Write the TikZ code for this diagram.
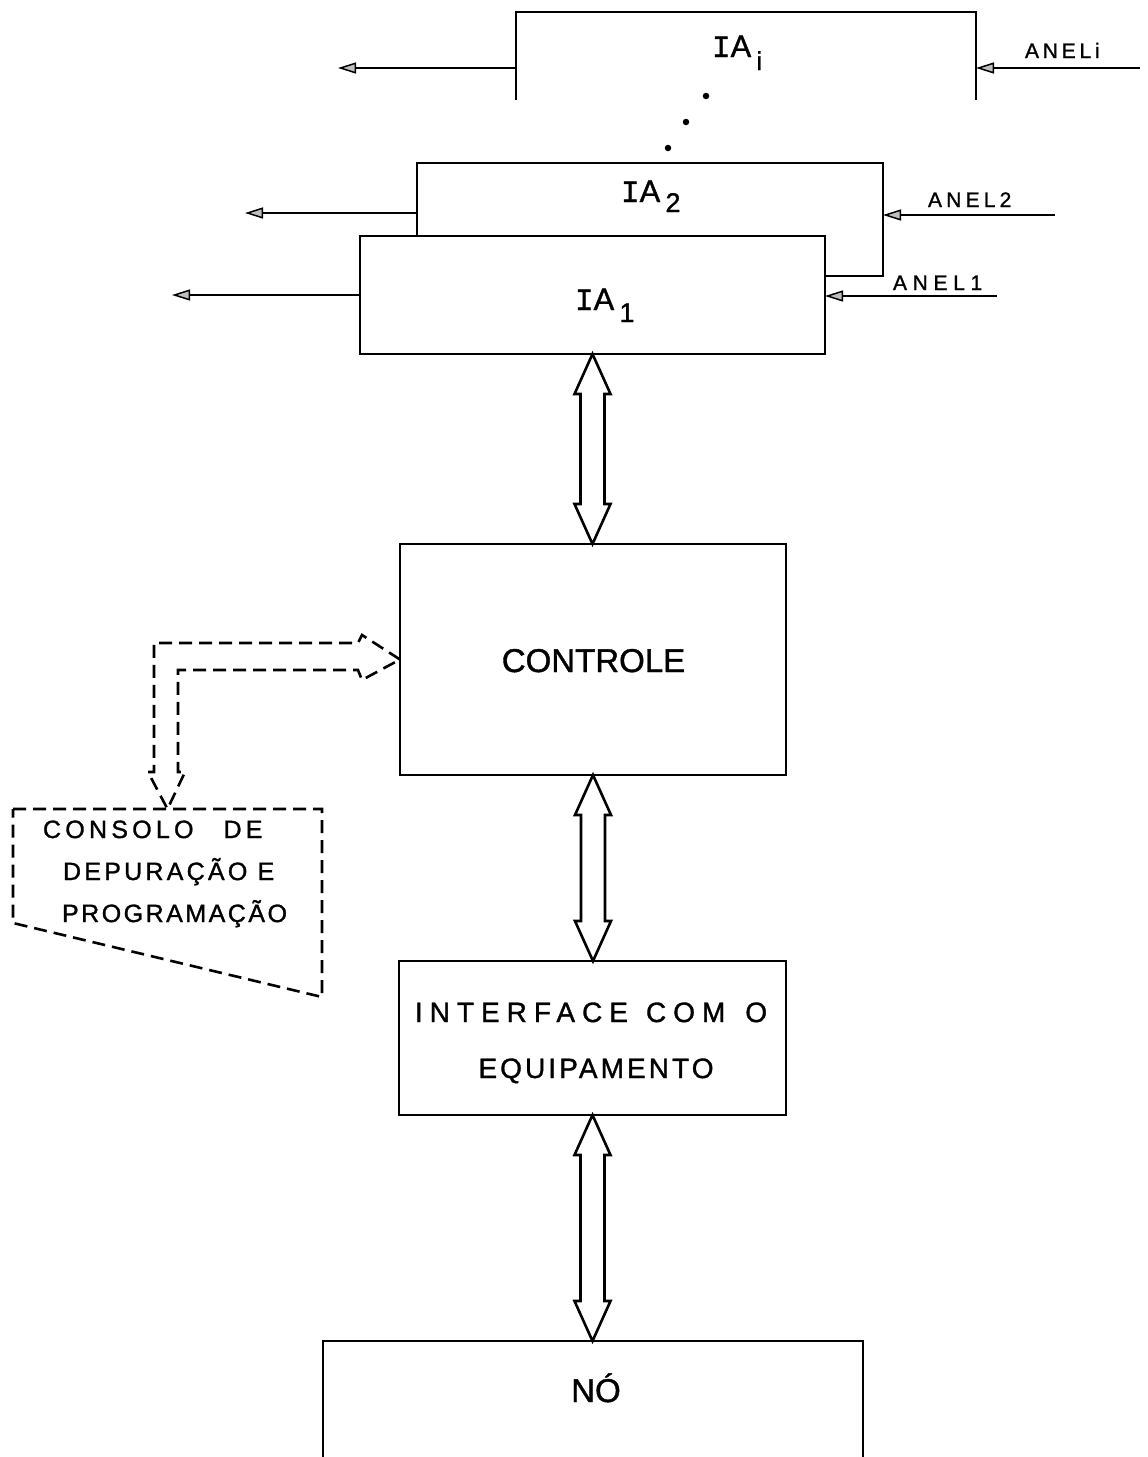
\documentclass[tikz,border=0pt]{standalone}
\usepackage{fontspec}
\setmainfont{Liberation Sans}[FakeBold=1.2]
\newfontfamily\monof{Liberation Mono}[FakeBold=1.2]
\usetikzlibrary{arrows.meta,calc}
\newcommand{\lsp}[1]{\addfontfeature{LetterSpace=#1}}
\newcommand{\fsz}[1]{\fontsize{#1}{#1}\selectfont}
\newcommand{\dblarrow}[2]{%
  \draw[dbl] let \p1=(#1), \p2=(#2) in
    (\x1,\y1) -- (\x1-18pt,\y1-40pt) -- (\x1-12pt,\y1-40pt) -- (\x1-12pt,\y2+40pt)
    -- (\x1-18pt,\y2+40pt) -- (\x1,\y2) -- (\x1+18pt,\y2+40pt) -- (\x1+12pt,\y2+40pt)
    -- (\x1+12pt,\y1-40pt) -- (\x1+18pt,\y1-40pt) -- cycle;}
\begin{document}
\begin{tikzpicture}[x=1pt,y=-1pt,
  area/.style={draw=none, rectangle, inner sep=0pt, outer sep=0pt},
  boxline/.style={line width=2.8pt, line join=miter},
  sarrow/.style={line width=1.8pt, -{Triangle[open,length=18pt,width=11pt,line width=1.5pt,fill=black!25]}},
  dbl/.style={line width=2.6pt, line join=miter, fill=white},
  dashline/.style={line width=2.6pt, dash pattern=on 13pt off 7pt, line join=miter},
  txt/.style={inner sep=0pt, outer sep=0pt, anchor=base},
  txtw/.style={inner sep=0pt, outer sep=0pt, anchor=base west},
  dotst/.style={circle, fill=black, inner sep=0pt, minimum size=6.5pt}]
\useasboundingbox (0,0) rectangle (1148,1457);

% areas of the blocks
\node[area, minimum width=460pt, minimum height=88pt]  (iai)  at (746,56) {};
\node[area, minimum width=466pt, minimum height=113pt] (ia2)  at (650,219.5) {};
\node[area, minimum width=465pt, minimum height=118pt] (ia1)  at (592.5,295) {};
\node[area, minimum width=386pt, minimum height=231pt] (ctrl) at (593,659.5) {};
\node[area, minimum width=387pt, minimum height=154pt] (intf) at (592.5,1038) {};
\node[area, minimum width=540pt, minimum height=128pt] (no)   at (593,1405) {};
\node[area, minimum width=309pt, minimum height=188pt] (cons) at (167.5,903) {};

% block outlines
\draw[boxline] (iai.south west) -- (iai.north west) -- (iai.north east) -- (iai.south east);
\draw[boxline] (ia2.west |- ia1.north) -- (ia2.north west) -- (ia2.north east) -- (ia2.south east) -- (ia1.east |- ia2.south);
\draw[boxline] (ia1.south west) rectangle (ia1.north east);
\draw[boxline] (ctrl.south west) rectangle (ctrl.north east);
\draw[boxline] (intf.south west) rectangle (intf.north east);
\draw[boxline] (no.south west) -- (no.north west) -- (no.north east) -- (no.south east);
\draw[dashline] (cons.north west) -- (cons.north east) -- (cons.south east) -- ($(cons.north west)+(0,114)$) -- cycle;

% dots between IAi and IA2
\node[dotst] (d1) at (706,96) {};
\node[dotst] (d2) at (686,122) {};
\node[dotst] (d3) at (668,148) {};

% outgoing / incoming single arrows
\coordinate (oi) at (338,68);
\coordinate (o2) at (245,213);
\coordinate (o1) at (172,295);
\coordinate (ini) at (1140,68);
\coordinate (in2) at (1055,215);
\coordinate (in1) at (997,296);
\draw[sarrow] (iai.west |- oi) -- (oi);
\draw[sarrow] (ia2.west |- o2) -- (o2);
\draw[sarrow] (ia1.west |- o1) -- (o1);
\draw[sarrow] (ini) -- (ini -| iai.east);
\draw[sarrow] (in2) -- (in2 -| ia2.east);
\draw[sarrow] (in1) -- (in1 -| ia1.east);

% double arrows
\dblarrow{ia1.south}{ctrl.north}
\dblarrow{ctrl.south}{intf.north}
\dblarrow{intf.south}{no.north}

% dashed double arrow console <-> controle
\draw[dashline] (ctrl.west) -- (362,635) -- (358,643) -- (154,643) -- (154,772) -- (148,772)
  -- (cons.north) -- (185,772) -- (178,772) -- (178,670) -- (358,670) -- (362,680) -- cycle;

% labels
\node[txtw, font=\fsz{31}] (liai) at (712,57) {{\monof I}A\,\raisebox{-13pt}{\fsz{26}i}};
\node[txtw, font=\fsz{31}] (lia2) at (621,202) {{\monof I}A\,\raisebox{-10pt}{\fsz{27}2}};
\node[txtw, font=\fsz{31}] (lia1) at (575,310) {{\monof I}A\,\raisebox{-12pt}{\fsz{27}1}};
\node[txtw, font=\fsz{21}\lsp{18}] (lani) at (1025,58) {ANELi};
\node[txtw, font=\fsz{21}\lsp{20}] (lan2) at (928,207) {ANEL2};
\node[txtw, font=\fsz{21}\lsp{27}] (lan1) at (893,290) {ANEL1};
\node[txt, font=\fsz{33}] (lctrl) at (593.5,672) {CONTROLE};
\node[txt, font=\fsz{28}\lsp{25}] (lint1) at (591,1022) {INTERFACE\hspace{18pt}COM\hspace{20pt}O};
\node[txt, font=\fsz{28}\lsp{11}] (lint2) at (596,1078) {EQUIPAMENTO};
\node[txt, font=\fsz{33}] (lno) at (596,1402) {NÓ};
\node[txtw, font=\fsz{25}\lsp{17}] (lc1) at (43,838) {CONSOLO\hspace{30pt}DE};
\node[txtw, font=\fsz{25}\lsp{13}] (lc2) at (63,880) {DEPURAÇÃO E};
\node[txtw, font=\fsz{25}\lsp{10}] (lc3) at (62,922) {PROGRAMAÇÃO};
\end{tikzpicture}
\end{document}
